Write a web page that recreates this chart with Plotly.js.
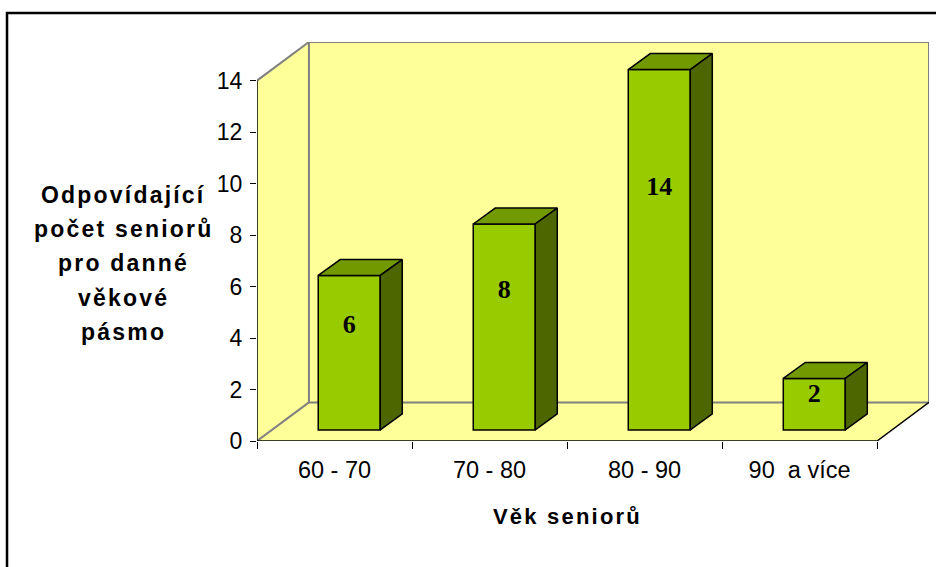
<!DOCTYPE html>
<html><head><meta charset="utf-8">
<script src="https://cdn.plot.ly/plotly-3.0.1.min.js"></script>
<style>html,body{margin:0;padding:0;background:#fff}
.annotation-text{letter-spacing:2.2px}</style>
</head><body><div id="chart" style="width:936px;height:567px"></div>
<script>
const categories = ['60 - 70', '70 - 80', '80 - 90', '90\u00a0 a více'];
const values = [6, 8, 14, 2];
const yTickValues = [0, 2, 4, 6, 8, 10, 12, 14];
const xAxisTitle = 'Věk seniorů';
const yAxisTitleLines = ['Odpovídající', 'počet seniorů', 'pro danné', 'věkové', 'pásmo'];

// 3D geometry (in axis units)
const YMAX = 14, DX = 0.335, DY = 1.5;
const BAR_W = 0.4, BAR_OX = 0.095, BAR_OY = 0.43, BAR_DX = 0.142, BAR_DY = 0.62;
const LABEL_FRAC = 0.67;

const FRONT = '#99CC00', TOP = '#739900', SIDE = '#4D6600', WALL = '#FFFF99', EDGE = '#808080';
const SANS = 'Liberation Sans, Arial, sans-serif';

const n = categories.length;
const xL = -0.5, xR = n - 0.5;
const boundaries = Array.from({length: n + 1}, (_, i) => i - 0.5);

const pts = a => 'M' + a.map(p => p[0] + ',' + p[1]).join('L');
const shapes = [];
// walls (fills)
shapes.push({type: 'path', layer: 'below', path: pts([[xL, 0], [xL + DX, DY], [xL + DX, YMAX + DY], [xL, YMAX]]) + 'Z', fillcolor: WALL, line: {width: 0}});
shapes.push({type: 'path', layer: 'below', path: pts([[xL + DX, DY], [xR + DX, DY], [xR + DX, YMAX + DY], [xL + DX, YMAX + DY]]) + 'Z', fillcolor: WALL, line: {width: 0}});
shapes.push({type: 'path', layer: 'below', path: pts([[xL, 0], [xR, 0], [xR + DX, DY], [xL + DX, DY]]) + 'Z', fillcolor: WALL, line: {width: 0}});
// gray edges
shapes.push({type: 'path', layer: 'below', path: pts([[xL + DX, DY], [xR + DX, DY], [xR + DX, YMAX + DY], [xL + DX, YMAX + DY]]) + 'Z', line: {color: EDGE, width: 2}});
shapes.push({type: 'path', layer: 'below', path: pts([[xL, YMAX], [xL + DX, YMAX + DY]]), line: {color: EDGE, width: 2}});
shapes.push({type: 'path', layer: 'below', path: pts([[xL, 0], [xL + DX, DY]]), line: {color: EDGE, width: 2}});
// black axis edges
shapes.push({type: 'path', layer: 'below', path: pts([[xL, 0], [xL, YMAX]]), line: {color: '#000', width: 1.5}});
shapes.push({type: 'path', layer: 'below', path: pts([[xL, 0], [xR, 0], [xR + DX, DY]]), line: {color: '#000', width: 1.5}});
// outer frame
shapes.push({type: 'rect', xref: 'paper', yref: 'paper', x0: -0.372, x1: 1.03, y0: -0.36, y1: 1.0727, line: {color: '#000', width: 2.5}});

const traces = [];
traces.push({
  type: 'bar', x: values.map((_, i) => i + BAR_OX), y: values, base: BAR_OY, width: BAR_W,
  marker: {color: FRONT, line: {color: '#000', width: 1.5}}, hoverinfo: 'skip', showlegend: false
});
values.forEach((v, i) => {
  const l = i + BAR_OX - BAR_W / 2, r = l + BAR_W, b = BAR_OY, t = BAR_OY + v;
  traces.push({type: 'scatter', mode: 'lines', fill: 'toself', fillcolor: TOP, line: {color: '#000', width: 1.5},
    x: [l, r, r + BAR_DX, l + BAR_DX, l], y: [t, t, t + BAR_DY, t + BAR_DY, t], hoverinfo: 'skip', showlegend: false});
  traces.push({type: 'scatter', mode: 'lines', fill: 'toself', fillcolor: SIDE, line: {color: '#000', width: 1.5},
    x: [r, r, r + BAR_DX, r + BAR_DX, r], y: [b, t, t + BAR_DY, b + BAR_DY, b], hoverinfo: 'skip', showlegend: false});
});
traces.push({
  type: 'scatter', mode: 'text', x: values.map((_, i) => i + BAR_OX), y: values.map(v => BAR_OY + v * LABEL_FRAC),
  text: values.map(v => '<b>' + v + '</b>'), textposition: 'middle center',
  textfont: {family: 'Liberation Serif, Times New Roman, serif', size: 26, color: '#000'}, hoverinfo: 'skip', showlegend: false
});

const annotations = yAxisTitleLines.map((t, k) => ({
  xref: 'paper', yref: 'paper', x: -0.1987, y: (441 - (194.6 + 34.3 * k)) / 399, xanchor: 'center', yanchor: 'middle',
  text: '<b>' + t + '</b>', showarrow: false, font: {family: SANS, size: 23, color: '#000'}
}));
annotations.push({xref: 'x', yref: 'paper', x: (n - 1) / 2, y: -0.19, xanchor: 'center', yanchor: 'middle',
  text: '<b>' + xAxisTitle + '</b>', showarrow: false, font: {family: SANS, size: 22, color: '#000'}});

const layout = {
  width: 936, height: 567, margin: {l: 257, r: 7, t: 42, b: 126},
  paper_bgcolor: '#fff', plot_bgcolor: '#fff', showlegend: false,
  xaxis: {type: 'linear', range: [xL, xR + DX], tickmode: 'array', tickvals: categories.map((_, i) => i), ticktext: categories,
    ticks: '', showgrid: false, zeroline: false, showline: false, ticklabelstandoff: 12,
    tickfont: {family: SANS, size: 23.5, color: '#000'},
    minor: {tickmode: 'array', tickvals: boundaries, ticks: 'outside', ticklen: 7, tickcolor: '#000', tickwidth: 1, showgrid: false},
    fixedrange: true},
  yaxis: {range: [0, YMAX + DY], tickmode: 'array', tickvals: yTickValues, ticks: 'outside', ticklen: 6, tickcolor: '#000', tickwidth: 1,
    showgrid: false, zeroline: false, showline: false, tickfont: {family: SANS, size: 23, color: '#000'}, ticklabelstandoff: 3,
    fixedrange: true},
  shapes: shapes, annotations: annotations, bargap: 0
};
Plotly.newPlot('chart', traces, layout, {displayModeBar: false, staticPlot: true});
</script></body></html>
